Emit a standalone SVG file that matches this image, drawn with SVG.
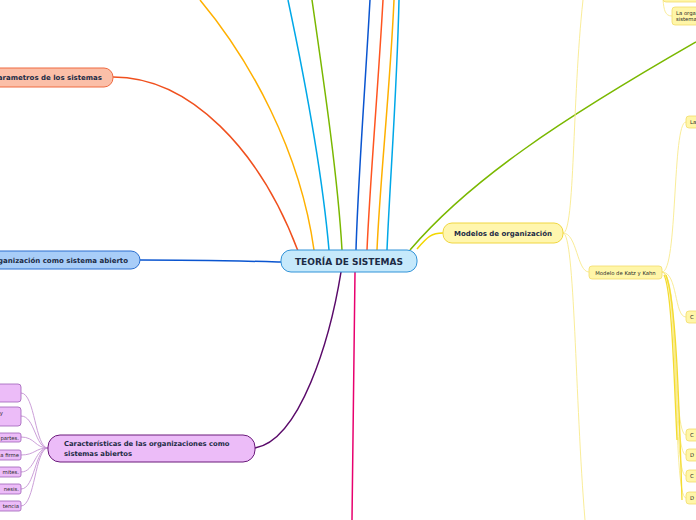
<svg xmlns="http://www.w3.org/2000/svg" width="696" height="520" viewBox="0 0 696 520">
<style>
.t{font-family:"DejaVu Sans",sans-serif;font-weight:bold;fill:#1c2b45}
.s{font-family:"DejaVu Sans",sans-serif;fill:#2a2a2a;font-size:5.3px}
.c{fill:none}
.py{stroke:#f8ea8c;stroke-width:0.9;fill:none}
.pp{stroke:#c594d4;stroke-width:0.9;fill:none}
.yn{fill:#fff6a8;stroke:#f2dc6a;stroke-width:0.8}
.pn{fill:#ecbcf8;stroke:#a060b8;stroke-width:0.8}
</style>
<rect width="696" height="520" fill="#ffffff"/>
<g id="connectors" class="c">
<path d="M200,0 C250,60 300,150 314,250" stroke="#ffb000" stroke-width="1.5"/>
<path d="M288,0 C305,80 322,170 329,250" stroke="#00a8e8" stroke-width="1.5"/>
<path d="M312,0 C325,90 338,180 342,250" stroke="#7ab800" stroke-width="1.5"/>
<path d="M370,0 C365,90 358,180 356,250" stroke="#0a55d0" stroke-width="1.5"/>
<path d="M383,0 C378,90 370,180 367,250" stroke="#ff5520" stroke-width="1.5"/>
<path d="M394,0 C390,90 380,180 377,250" stroke="#ffb000" stroke-width="1.5"/>
<path d="M399,0 C397,90 390,180 387,250" stroke="#00a8e8" stroke-width="1.5"/>
<path d="M113,77 C190,77 260,150 298,251" stroke="#f0501e" stroke-width="1.5"/>
<path d="M140,260 C200,260 240,261 282,262" stroke="#0a55d0" stroke-width="1.5"/>
<path d="M255,448 C300,440 330,340 341,272" stroke="#5a0a6a" stroke-width="1.5"/>
<path d="M355,272 C354,350 353,440 352,520" stroke="#e8006e" stroke-width="1.5"/>
<path d="M410,250 C470,180 560,120 696,42" stroke="#7ab800" stroke-width="1.5"/>
<path d="M417,249 C428,236 432,233 443,233" stroke="#f2d700" stroke-width="1.5"/>
<path class="py" d="M563,233 C575,233 572,100 583,0"/>
<path class="py" d="M563,233 C575,233 575,400 585,520"/>
<path class="py" d="M563,233 C577,233 577,272 589,272"/>
<path class="py" d="M663,0 C664,10 665,16 672,16"/>
<path class="py" d="M662,272 C678,272 672,122 686,122"/>
<path class="py" d="M662,272 C678,272 674,317 686,317"/>
<path class="py" d="M662,272 C680,272 672,435 686,435"/>
<path class="py" d="M662,272 C680,272 672,455 686,455"/>
<path class="py" d="M662,272 C680,272 672,476 686,476"/>
<path class="py" d="M662,272 C680,272 672,498 686,498"/>
<path d="M664,275 C672,290 674,380 677,440" stroke="#f4dc30" stroke-width="1.3"/>
<path d="M666,275 C676,300 679,400 682,500" stroke="#f4dc30" stroke-width="1.3"/>
<path class="pp" d="M48,448 C35,448 35,393 21,393"/>
<path class="pp" d="M48,448 C35,448 35,416 21,416"/>
<path class="pp" d="M48,448 C35,448 35,437 21,437"/>
<path class="pp" d="M48,448 C35,448 35,455 21,455"/>
<path class="pp" d="M48,448 C35,448 35,472 21,472"/>
<path class="pp" d="M48,448 C35,448 35,489 21,489"/>
<path class="pp" d="M48,448 C35,448 35,506 21,506"/>
</g>
<g id="n-center">
<rect x="281" y="250" width="136" height="22" rx="10" fill="#c6e9fb" stroke="#3193d8" stroke-width="1"/>
<text class="t" x="349" y="265" font-size="9" text-anchor="middle">TEORÍA DE SISTEMAS</text>
</g>
<g id="n-parametros">
<rect x="-12" y="68" width="125" height="19" rx="9" fill="#fbbfa8" stroke="#ef6a40" stroke-width="1"/>
<text class="t" x="102" y="80" font-size="7" text-anchor="end">arametros de los sistemas</text>
</g>
<g id="n-organizacion">
<rect x="-12" y="251" width="152" height="18" rx="9" fill="#a8cdf8" stroke="#2a6fd0" stroke-width="1"/>
<text class="t" x="128" y="263" font-size="7" text-anchor="end">ganización como sistema abierto</text>
</g>
<g id="n-caracteristicas">
<rect x="48" y="435" width="207" height="27" rx="12" fill="#ecbcf8" stroke="#6a1a7a" stroke-width="1"/>
<text class="t" x="64" y="446" font-size="6.8">Características de las organizaciones como</text>
<text class="t" x="64" y="456" font-size="6.8">sistemas abiertos</text>
</g>
<g id="n-c1"><rect class="pn" x="-6" y="384" width="27" height="18" rx="3"/></g>
<g id="n-c2"><rect class="pn" x="-6" y="407" width="27" height="19" rx="3"/><text class="s" x="3" y="415" text-anchor="end">y</text></g>
<g id="n-c3"><rect class="pn" x="-6" y="433" width="27" height="9" rx="2"/><text class="s" x="19" y="439.5" text-anchor="end">partes.</text></g>
<g id="n-c4"><rect class="pn" x="-6" y="450" width="27" height="10" rx="2"/><text class="s" x="19" y="457" text-anchor="end">a firme</text></g>
<g id="n-c5"><rect class="pn" x="-6" y="467" width="27" height="10" rx="2"/><text class="s" x="19" y="474" text-anchor="end">mites.</text></g>
<g id="n-c6"><rect class="pn" x="-6" y="484" width="27" height="10" rx="2"/><text class="s" x="19" y="491" text-anchor="end">nesis.</text></g>
<g id="n-c7"><rect class="pn" x="-6" y="501" width="27" height="10" rx="2"/><text class="s" x="19" y="508" text-anchor="end">tencia</text></g>
<g id="n-modelos">
<rect x="443" y="223" width="120" height="20" rx="9" fill="#fff6ae" stroke="#f0d640" stroke-width="1"/>
<text class="t" x="503" y="236" font-size="7" text-anchor="middle">Modelos de organización</text>
</g>
<g id="n-katz">
<rect class="yn" x="589" y="266" width="73" height="13" rx="3"/>
<text class="s" x="625.5" y="274.5" text-anchor="middle">Modelo de Katz y Kahn</text>
</g>
<g id="n-top"><rect class="yn" x="663" y="-8" width="40" height="10" rx="3"/></g>
<g id="n-laorga">
<rect class="yn" x="672" y="7" width="30" height="18" rx="3"/>
<text class="s" x="676" y="14.5">La orga</text>
<text class="s" x="676" y="21">sistema</text>
</g>
<g id="n-r1"><rect class="yn" x="686" y="116" width="15" height="12" rx="3"/><text class="s" x="690" y="124">La</text></g>
<g id="n-r2"><rect class="yn" x="686" y="311" width="15" height="12" rx="3"/><text class="s" x="690" y="319">C</text></g>
<g id="n-r3"><rect class="yn" x="686" y="429" width="15" height="12" rx="3"/><text class="s" x="690" y="437">C</text></g>
<g id="n-r4"><rect class="yn" x="686" y="449" width="15" height="12" rx="3"/><text class="s" x="690" y="457">D</text></g>
<g id="n-r5"><rect class="yn" x="686" y="470" width="15" height="12" rx="3"/><text class="s" x="690" y="478">C</text></g>
<g id="n-r6"><rect class="yn" x="686" y="492" width="15" height="12" rx="3"/><text class="s" x="690" y="500">D</text></g>
</svg>
